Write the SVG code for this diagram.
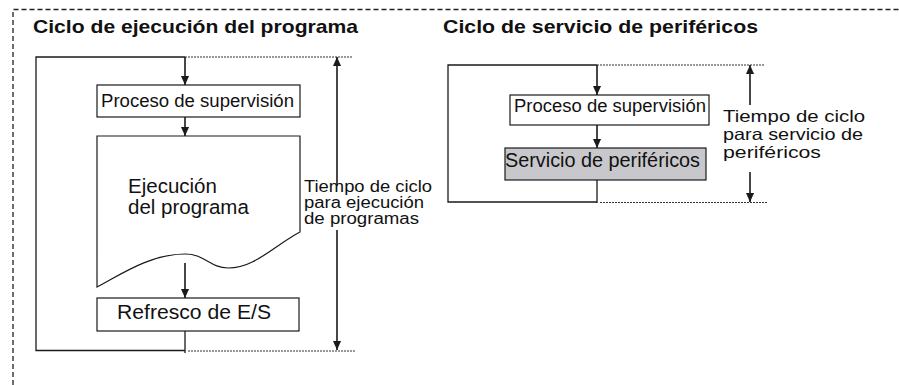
<svg xmlns="http://www.w3.org/2000/svg" width="899" height="385" viewBox="0 0 899 385">
<style>
.ln{fill:none;stroke:#1a1a1a;stroke-width:1.3}
.dot{fill:none;stroke:#333;stroke-width:1.1;stroke-dasharray:2 1}
.box{fill:#fff;stroke:#1a1a1a;stroke-width:1.2}
.grey{fill:#c8c8cc;stroke:#1a1a1a;stroke-width:1.2}
.t{font-family:"Liberation Sans",Arial,sans-serif;fill:#111}
.title{font-family:"Liberation Sans",Arial,sans-serif;font-weight:bold;font-size:19px;fill:#111}
.arr{fill:none;stroke:#1a1a1a;stroke-width:1.6;marker-end:url(#ah)}
</style>
<defs>
<marker id="ah" viewBox="0 0 10 10" refX="10" refY="5" markerWidth="10" markerHeight="9" orient="auto" markerUnits="userSpaceOnUse">
<path d="M0,0.5 L10,5 L0,9.5 z" fill="#1a1a1a"/>
</marker>
</defs>
<g id="frame">
<path d="M13,385 V9.5 H899" fill="none" stroke="#222" stroke-width="1.3" stroke-dasharray="5 3"/>
</g>
<g id="title-left"><text class="title" x="33" y="33" textLength="325" lengthAdjust="spacingAndGlyphs">Ciclo de ejecución del programa</text></g>
<g id="title-right"><text class="title" x="443" y="33" textLength="315" lengthAdjust="spacingAndGlyphs">Ciclo de servicio de periféricos</text></g>

<g id="loop-left">
<path class="ln" d="M185,57 H36 V350.5 H185"/>
<path class="dot" d="M185,57 H352"/>
<path class="dot" d="M188,351 H355"/>
</g>
<g id="node-supervision-left">
<rect class="box" x="97" y="85" width="203" height="32"/>
<text class="t" x="101" y="107" font-size="17.5" textLength="193" lengthAdjust="spacingAndGlyphs">Proceso de supervisión</text>
</g>
<g id="node-programa">
<path class="box" d="M97,136 H300 V232 C275,245 255,268 228,268 C210,268 205,254 185,254 C150,254 120,275 97,287 Z"/>
<text class="t" x="128" y="193" font-size="20.5">Ejecución</text>
<text class="t" x="128" y="214" font-size="20.5">del programa</text>
</g>
<g id="node-refresco">
<rect class="box" x="97" y="298" width="202" height="33"/>
<text class="t" x="117" y="319" font-size="20.5" textLength="154" lengthAdjust="spacingAndGlyphs">Refresco de E/S</text>
</g>
<g id="label-left">
<text class="t" x="304" y="192" font-size="16" textLength="128" lengthAdjust="spacingAndGlyphs">Tiempo de ciclo</text>
<text class="t" x="304" y="208" font-size="16" textLength="120" lengthAdjust="spacingAndGlyphs">para ejecución</text>
<text class="t" x="304" y="224" font-size="16" textLength="115" lengthAdjust="spacingAndGlyphs">de programas</text>
</g>

<g id="loop-right">
<path class="ln" d="M597,65 H448 V202 H597"/>
<path class="dot" d="M597,65 H765"/>
<path class="dot" d="M600,202.5 H768"/>
</g>
<g id="node-supervision-right">
<rect class="box" x="510" y="95" width="199" height="30"/>
<text class="t" x="514" y="112" font-size="17.5" textLength="192" lengthAdjust="spacingAndGlyphs">Proceso de supervisión</text>
</g>
<g id="node-servicio">
<rect class="grey" x="505" y="148" width="201" height="32"/>
<text class="t" x="505" y="167" font-size="20" textLength="195" lengthAdjust="spacingAndGlyphs">Servicio de periféricos</text>
</g>
<g id="label-right">
<text class="t" x="723" y="122" font-size="16.5" textLength="142" lengthAdjust="spacingAndGlyphs">Tiempo de ciclo</text>
<text class="t" x="723" y="140" font-size="16.5" textLength="140" lengthAdjust="spacingAndGlyphs">para servicio de</text>
<text class="t" x="723" y="158" font-size="16.5" textLength="98" lengthAdjust="spacingAndGlyphs">periféricos</text>
</g>

<g id="connectors">
<line class="arr" x1="185" y1="57" x2="185" y2="85"/>
<line class="arr" x1="185" y1="117" x2="185" y2="136"/>
<line class="arr" x1="185" y1="263" x2="185" y2="298"/>
<line class="ln" x1="185" y1="331" x2="185" y2="353"/>
<line class="arr" x1="337" y1="186" x2="337" y2="57"/>
<line class="arr" x1="337" y1="230" x2="337" y2="350"/>
<line class="arr" x1="597" y1="65" x2="597" y2="95"/>
<line class="arr" x1="597" y1="125" x2="597" y2="148"/>
<line class="ln" x1="597" y1="180" x2="597" y2="203"/>
<line class="arr" x1="750" y1="105" x2="750" y2="65"/>
<line class="arr" x1="750" y1="172" x2="750" y2="202"/>
</g>
</svg>
